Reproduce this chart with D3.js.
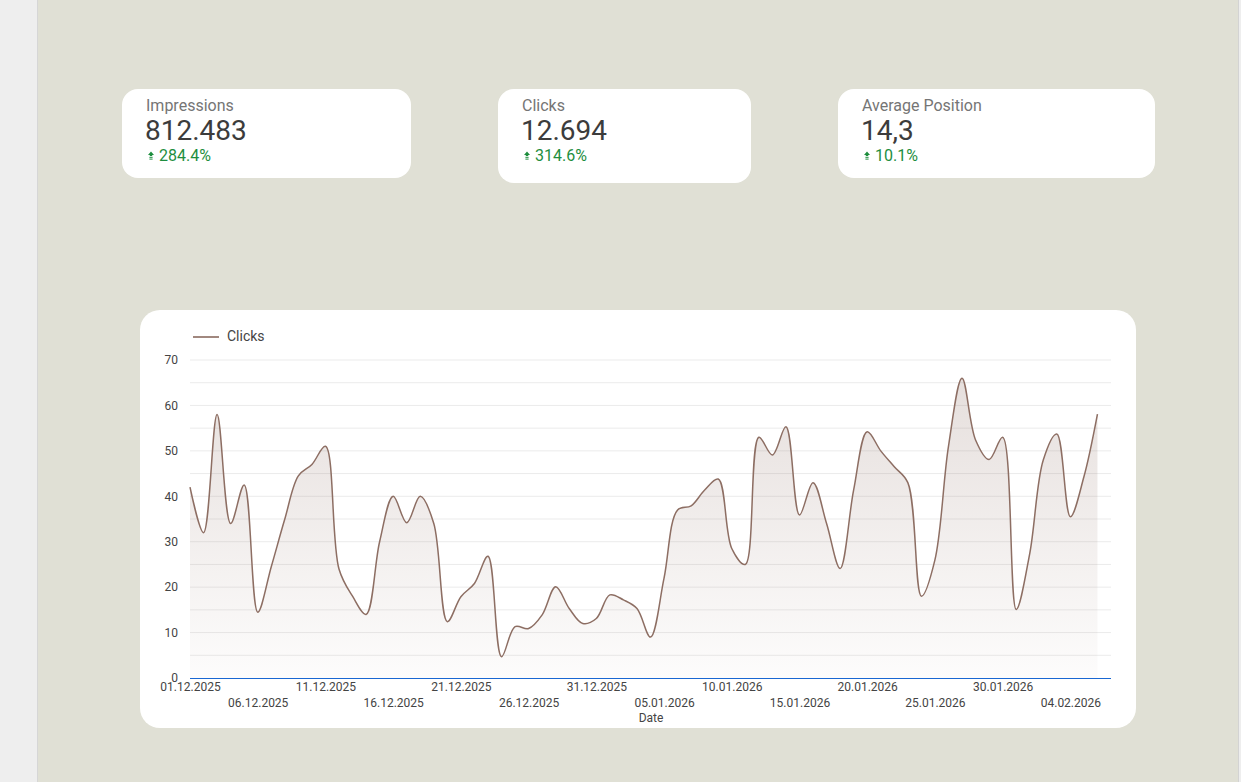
<!DOCTYPE html>
<html><head><meta charset="utf-8">
<script src="https://cdn.jsdelivr.net/npm/d3@7"></script>
<style>
html,body{margin:0;padding:0;}
body{width:1241px;height:782px;overflow:hidden;background:#e0e0d5;font-family:Roboto,"Liberation Sans",Arial,sans-serif;}
</style></head><body>
<svg id="c" width="1241" height="782"></svg>
<script>
// ---- data ----
const kpiLabels = ["Impressions", "Clicks", "Average Position"];
const kpiValues = ["812.483", "12.694", "14,3"];
const kpiDeltas = ["284.4%", "314.6%", "10.1%"];

const startDate = "2025-12-01";
const clicks = [42, 32, 58, 34, 42.5, 14.5, 24.5, 35, 44.5, 47,
  51, 24, 18, 14, 30, 40, 34.2, 40, 34, 12.4,
  17.9, 20.8, 26.8, 4.7, 11.3, 10.9, 13.9, 20.1, 15.3, 12,
  13.1, 18.3, 17.2, 15.3, 9, 22, 37, 37.9, 41.4, 43.8,
  28.5, 25, 53, 49.1, 55.3, 35.9, 43, 34, 24.1, 41.4,
  54.2, 50, 46.5, 43, 18, 26, 51, 66, 52.4, 48.1,
  53, 15.1, 27.4, 48, 53.7, 35.5, 44.3, 58.1];
const yTicks = [0, 10, 20, 30, 40, 50, 60, 70];
const xTickLabels = ["01.12.2025","06.12.2025","11.12.2025","16.12.2025","21.12.2025","26.12.2025","31.12.2025",
  "05.01.2026","10.01.2026","15.01.2026","20.01.2026","25.01.2026","30.01.2026","04.02.2026"];
const seriesName = "Clicks";
const xTitle = "Date";

// ---- drawing ----
const svg = d3.select("#c");
const parse = d3.timeParse("%Y-%m-%d");
const parseTick = d3.timeParse("%d.%m.%Y");
const fmtTick = d3.timeFormat("%d.%m.%Y");
const d0 = parse(startDate);
const data = clicks.map((v, i) => ({date: d3.timeDay.offset(d0, i), value: v}));

// page chrome
svg.append("rect").attr("x",0).attr("y",0).attr("width",37).attr("height",782).attr("fill","#eeeeee");
svg.append("rect").attr("x",37).attr("y",0).attr("width",1).attr("height",782).attr("fill","#d6d6d6");
svg.append("rect").attr("x",1238).attr("y",0).attr("width",1).attr("height",782).attr("fill","#d3d3d3");
svg.append("rect").attr("x",1239).attr("y",0).attr("width",2).attr("height",782).attr("fill","#eeeeee");

// KPI cards
const cards = [
  {x:122, y:89, w:289, h:89},
  {x:498, y:89, w:253, h:94},
  {x:838, y:89, w:317, h:89}
];
cards.forEach((c, i) => {
  const g = svg.append("g").attr("transform", `translate(${c.x},${c.y})`);
  g.append("rect").attr("width", c.w).attr("height", c.h).attr("rx", 16).attr("fill", "#fff");
  g.append("text").attr("x", 24).attr("y", 22).attr("font-size", 16).attr("fill", "#757575").text(kpiLabels[i]);
  g.append("text").attr("x", 23).attr("y", 51).attr("font-size", 28).attr("fill", "#3c3c3c").text(kpiValues[i]);
  const a = g.append("g").attr("transform", "translate(29,66)").attr("fill", "#1e8e3e");
  a.append("path").attr("d", "M0,-3.5 L3,0 L1.2,0 L1.2,1 L-1.2,1 L-1.2,0 L-3,0 Z");
  a.append("rect").attr("x",-1.6).attr("y",1.8).attr("width",3.2).attr("height",1);
  a.append("rect").attr("x",-1.6).attr("y",3.6).attr("width",3.2).attr("height",1);
  g.append("text").attr("x", 37).attr("y", 72).attr("font-size", 16).attr("fill", "#1e8e3e").text(kpiDeltas[i]);
});

// chart card
svg.append("rect").attr("x",140).attr("y",310).attr("width",996).attr("height",418).attr("rx",20).attr("fill","#fff");

const x = d3.scaleTime().domain([d0, d3.timeDay.offset(d0, clicks.length)]).range([190, 1111]);
const y = d3.scaleLinear().domain([0, 70]).range([678, 360]);

const lineColor = "#8d6e63";

// gridlines every 5
const gridVals = d3.range(5, 75, 5);
svg.append("g").selectAll("line").data(gridVals).join("line")
  .attr("x1", 190).attr("x2", 1111).attr("y1", d => y(d)).attr("y2", d => y(d))
  .attr("stroke", "#ebebeb").attr("stroke-width", 1);

// gradient
const defs = svg.append("defs");
const grad = defs.append("linearGradient").attr("id","fillGrad")
  .attr("gradientUnits","userSpaceOnUse").attr("x1",0).attr("x2",0).attr("y1",y(66)).attr("y2",y(0));
grad.append("stop").attr("offset","0%").attr("stop-color",lineColor).attr("stop-opacity",0.22);
grad.append("stop").attr("offset","100%").attr("stop-color",lineColor).attr("stop-opacity",0.02);

const curve = d3.curveCatmullRom.alpha(0.5);
const area = d3.area().x(d => x(d.date)).y0(y(0)).y1(d => y(d.value)).curve(curve);
const line = d3.line().x(d => x(d.date)).y(d => y(d.value)).curve(curve);

svg.append("path").datum(data).attr("d", area).attr("fill", "url(#fillGrad)");
svg.append("path").datum(data).attr("d", line).attr("fill", "none")
  .attr("stroke", lineColor).attr("stroke-width", 1.5);

// baseline
svg.append("line").attr("x1",190).attr("x2",1111).attr("y1",y(0)+0.5).attr("y2",y(0)+0.5)
  .attr("stroke","#1967d2").attr("stroke-width",1);

// y axis labels
const yAxis = d3.axisLeft(y).tickValues(yTicks).tickSize(0).tickPadding(0);
const yg = svg.append("g").attr("transform","translate(178,0)").call(yAxis);
yg.select(".domain").remove();
yg.selectAll("text").attr("font-size",12).attr("fill","#444").attr("font-family","Roboto,'Liberation Sans',Arial,sans-serif");

// x axis labels (alternating rows)
const xTicks = xTickLabels.map(s => parseTick(s));
const xAxis = d3.axisBottom(x).tickValues(xTicks).tickFormat(fmtTick).tickSize(0).tickPadding(0);
const xg = svg.append("g").attr("transform","translate(0,679)").call(xAxis);
xg.select(".domain").remove();
xg.selectAll("text").attr("font-size",12).attr("fill","#444").attr("font-family","Roboto,'Liberation Sans',Arial,sans-serif")
  .attr("dy", null).attr("y", (d, i) => i % 2 === 0 ? 12 : 28);

svg.append("text").attr("x",651).attr("y",722).attr("text-anchor","middle")
  .attr("font-size",12).attr("fill","#444").text(xTitle);

// legend
svg.append("line").attr("x1",193).attr("x2",219).attr("y1",337).attr("y2",337)
  .attr("stroke","#a1887f").attr("stroke-width",2);
svg.append("text").attr("x",227).attr("y",341).attr("font-size",14).attr("fill","#444").text(seriesName);
</script>
</body></html>
